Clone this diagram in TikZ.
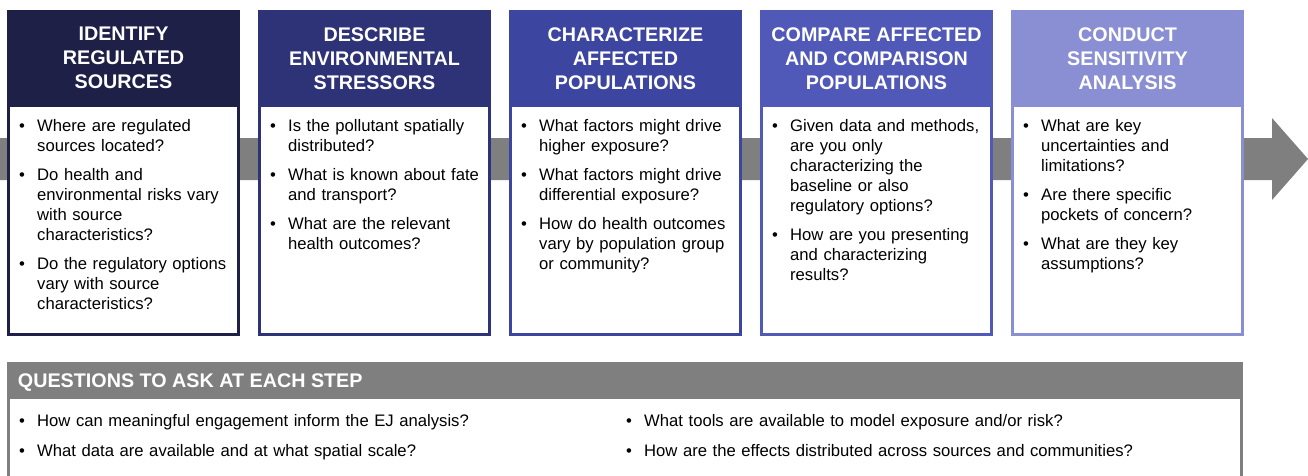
\documentclass[tikz,border=0pt]{standalone}
\usepackage{fontspec}
\setmainfont{Liberation Sans}
\usepackage{enumitem}
\usetikzlibrary{positioning,calc}

% step colours, dark to light
\definecolor{stepone}{HTML}{1F2048}
\definecolor{steptwo}{HTML}{2E3378}
\definecolor{stepthree}{HTML}{3C45A0}
\definecolor{stepfour}{HTML}{5059B8}
\definecolor{stepfive}{HTML}{8A8FD3}
\definecolor{bandgray}{HTML}{7F7F7F}

\newcommand{\headfont}{\fontsize{14.8}{18}\selectfont\bfseries}
\newcommand{\bodyfont}{\fontsize{12.5}{15}\selectfont}

% bullet lists inside the boxes
\newlist{qlist}{itemize}{1}
\setlist[qlist]{label=\textbullet, align=left, leftmargin=13.5pt, labelwidth=13.5pt,
  labelsep=0pt, labelindent=0pt, itemsep=6.75pt, parsep=0pt, topsep=0pt, partopsep=0pt}

\begin{document}
\begin{tikzpicture}[
    x=0.75pt, y=-0.75pt,
    %	style def
    every node/.style={outer sep=0pt},
    head/.style={line width=2.25pt, minimum width=172.5pt, minimum height=70.125pt,
      text=white, align=center, font=\headfont},
    body/.style={line width=2.25pt, fill=white, minimum width=172.5pt, minimum height=172.125pt},
    qs/.style={inner sep=0pt, text width=165pt, align=left, font=\bodyfont},
    qhead/.style={fill=bandgray, draw=bandgray, line width=2.25pt,
      minimum width=924.75pt, minimum height=25.125pt},
    qbody/.style={fill=white, draw=bandgray, line width=2.25pt,
      minimum width=924.75pt, minimum height=75pt}
    ]
    \useasboundingbox (0,0) rectangle (1308,475);

    % process arrow behind the steps
    \fill[bandgray] (0,138) -- (1272,138) -- (1272,118) -- (1308,159)
        -- (1272,200) -- (1272,180) -- (0,180) -- cycle;

    % step 1
    \node[head, fill=stepone, draw=stepone] (h1) at (123.5,58.25) {IDENTIFY\\REGULATED\\SOURCES};
    \node[body, draw=stepone, below=0pt of h1] (b1) {};
    \node[qs, below right=4.5pt and 8pt of b1.north west] (q1) {%
      \begin{qlist}
        \item Where are regulated\\sources located?
        \item Do health and\\environmental risks vary\\with source\\characteristics?
        \item Do the regulatory options\\vary with source\\characteristics?
      \end{qlist}};

    % step 2
    \node[head, fill=steptwo, draw=steptwo] (h2) at (374.5,58.25) {DESCRIBE\\ENVIRONMENTAL\\STRESSORS};
    \node[body, draw=steptwo, below=0pt of h2] (b2) {};
    \node[qs, below right=4.5pt and 8pt of b2.north west] (q2) {%
      \begin{qlist}
        \item Is the pollutant spatially\\distributed?
        \item What is known about fate\\and transport?
        \item What are the relevant\\health outcomes?
      \end{qlist}};

    % step 3
    \node[head, fill=stepthree, draw=stepthree] (h3) at (625.5,58.25) {CHARACTERIZE\\AFFECTED\\POPULATIONS};
    \node[body, draw=stepthree, below=0pt of h3] (b3) {};
    \node[qs, below right=4.5pt and 8pt of b3.north west] (q3) {%
      \begin{qlist}
        \item What factors might drive\\higher exposure?
        \item What factors might drive\\differential exposure?
        \item How do health outcomes\\vary by population group\\or community?
      \end{qlist}};

    % step 4
    \node[head, fill=stepfour, draw=stepfour] (h4) at (876.5,58.25) {COMPARE AFFECTED\\AND COMPARISON\\POPULATIONS};
    \node[body, draw=stepfour, below=0pt of h4] (b4) {};
    \node[qs, below right=4.5pt and 8pt of b4.north west] (q4) {%
      \begin{qlist}
        \item Given data and methods,\\are you only\\characterizing the\\baseline or also\\regulatory options?
        \item How are you presenting\\and characterizing\\results?
      \end{qlist}};

    % step 5
    \node[head, fill=stepfive, draw=stepfive] (h5) at (1127.5,58.25) {CONDUCT\\SENSITIVITY\\ANALYSIS};
    \node[body, draw=stepfive, below=0pt of h5] (b5) {};
    \node[qs, below right=4.5pt and 8pt of b5.north west] (q5) {%
      \begin{qlist}
        \item What are key\\uncertainties and\\limitations?
        \item Are there specific\\pockets of concern?
        \item What are they key\\assumptions?
      \end{qlist}};

    % questions for every step
    \node[qhead] (qh) at (625,380.25) {};
    \node[right=3.75pt of qh.west, yshift=-1.5pt, text=white, font=\fontsize{14.8}{17}\selectfont\bfseries] (qt) {QUESTIONS TO ASK AT EACH STEP};
    \node[qbody, below=0pt of qh] (qb) {};
    \node[qs, text width=420pt, below right=6.75pt and 8pt of qb.north west] (qa) {%
      \begin{qlist}[itemsep=7.5pt]
        \item How can meaningful engagement inform the EJ analysis?
        \item What data are available and at what spatial scale?
      \end{qlist}};
    \node[qs, text width=420pt, below right=6.75pt and 463.25pt of qb.north west] (qc) {%
      \begin{qlist}[itemsep=7.5pt]
        \item What tools are available to model exposure and/or risk?
        \item How are the effects distributed across sources and communities?
      \end{qlist}};
\end{tikzpicture}
\end{document}
